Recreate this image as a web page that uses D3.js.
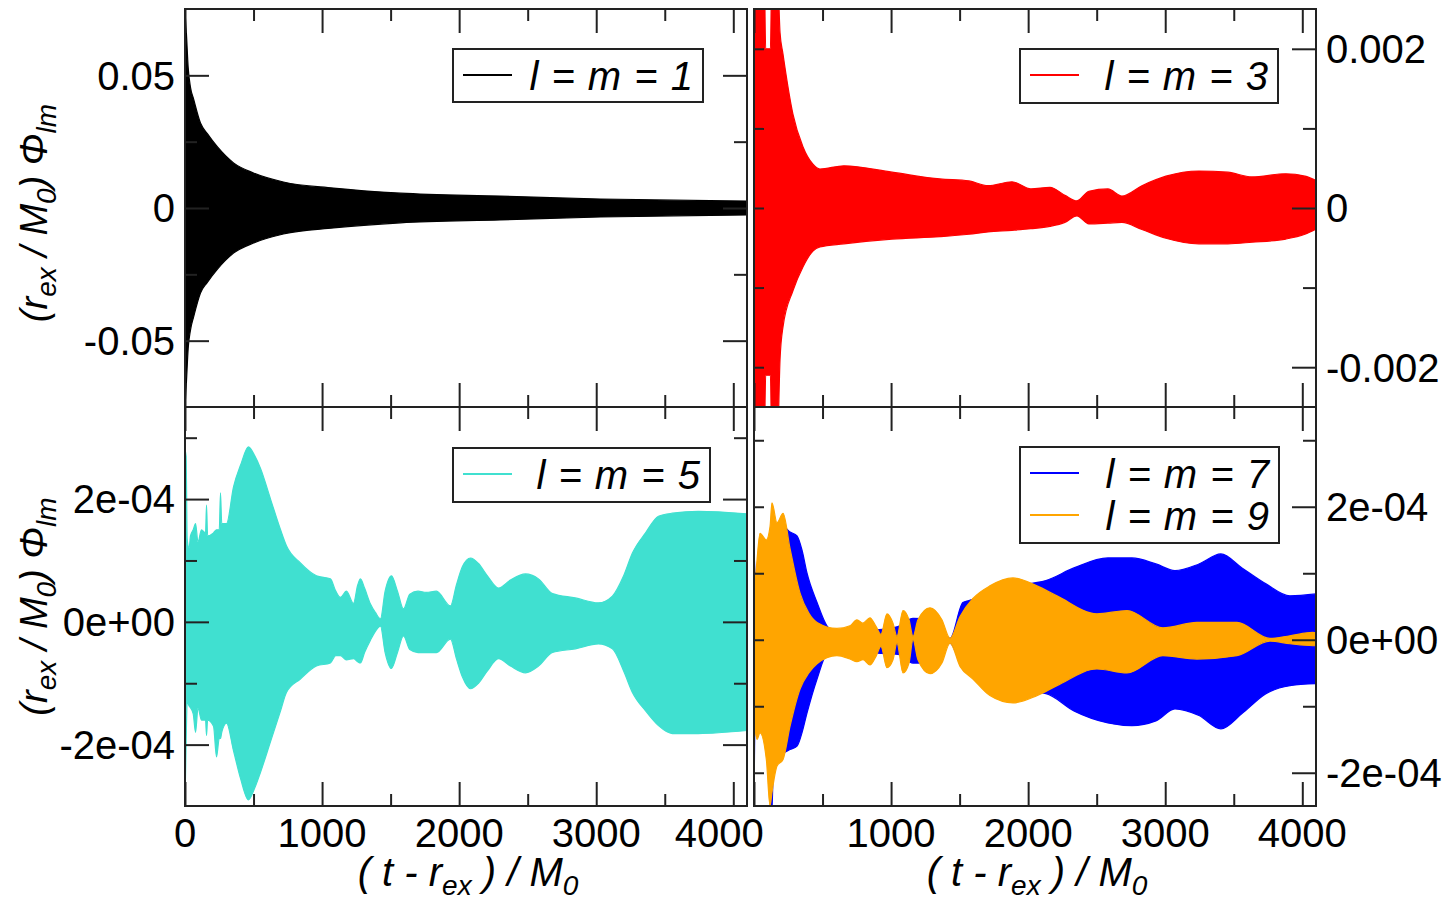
<!DOCTYPE html>
<html>
<head>
<meta charset="utf-8">
<script src="https://cdn.jsdelivr.net/npm/d3@7"></script>
<style>
  body { margin: 0; background: #fff; }
  svg { display: block; }
  text { font-family: "Liberation Sans", Arial, sans-serif; fill: #000; }
</style>
</head>
<body>
<script>
// envelopes of the oscillating waveforms
// each row: [ (t - r_ex)/M0 , upper amplitude , lower amplitude ]

var l1 = [
    [0, 0.074, -0.075], [10, 0.066, -0.066], [23, 0.053, -0.053], [40, 0.0455, -0.046],
    [63, 0.041, -0.041], [113, 0.032, -0.032], [163, 0.028, -0.028], [237, 0.023, -0.023],
    [354, 0.017, -0.017], [500, 0.0132, -0.0132], [718, 0.0098, -0.0098], [1083, 0.0075, -0.0075],
    [1572, 0.0056, -0.0056], [2301, 0.0045, -0.0045], [3030, 0.0034, -0.0034], [4103, 0.0026, -0.0026]
];

var l3 = [
    [0, 0.0030, -0.0030], [75, 0.0030, -0.0030], [85, 0.0020, -0.0021], [120, 0.0020, -0.0021],
    [130, 0.0030, -0.0030], [170, 0.0030, -0.0030], [190, 0.0022, -0.0019], [211, 0.00194, -0.0015],
    [284, 0.00118, -0.00104], [357, 0.00077, -0.00074], [430, 0.00055, -0.00054], [481, 0.00049, -0.00049],
    [656, 0.00053, -0.00045], [1007, 0.00045, -0.00039], [1357, 0.000365, -0.00036], [1568, 0.00034, -0.00033],
    [1707, 0.00028, -0.0003], [1882, 0.00033, -0.00028], [2020, 0.00024, -0.00026], [2159, 0.00026, -0.00023],
    [2268, 0.00016, -0.00018], [2356, 0.00009, -0.0001], [2443, 0.00021, -0.0002], [2582, 0.00024, -0.00019],
    [2684, 0.00015, -0.00018], [2830, 0.00028, -0.00027], [3005, 0.0004, -0.00038], [3246, 0.000465, -0.00045],
    [3457, 0.00045, -0.00045], [3632, 0.00039, -0.00043], [3880, 0.00043, -0.00039], [4019, 0.0004, -0.00033],
    [4107, 0.00034, -0.00026]
];

var l5 = [
    [0, 2.8e-4, -3.0e-4], [8, 2.7e-4, -2.0e-4], [16, 1.35e-4, -1.3e-4], [30, 1.2e-4, -1.37e-4],
    [40, 1.4e-4, -1.4e-4], [60, 1.5e-4, -1.5e-4], [77, 1.6e-4, -1.8e-4], [95, 1.3e-4, -1.4e-4],
    [120, 1.5e-4, -1.6e-4], [150, 1.45e-4, -1.6e-4], [157, 1.9e-4, -1.85e-4], [165, 1.4e-4, -1.6e-4],
    [208, 1.45e-4, -1.7e-4], [230, 1.5e-4, -2.2e-4], [250, 1.5e-4, -1.9e-4], [259, 2.1e-4, -1.9e-4],
    [268, 1.6e-4, -1.8e-4], [303, 1.6e-4, -1.65e-4], [354, 2.2e-4, -2.1e-4], [405, 2.55e-4, -2.55e-4],
    [463, 2.85e-4, -2.9e-4], [510, 2.7e-4, -2.7e-4], [551, 2.5e-4, -2.45e-4], [624, 2.0e-4, -1.95e-4],
    [697, 1.5e-4, -1.45e-4], [740, 1.24e-4, -1.15e-4], [842, 0.96e-4, -0.93e-4], [959, 0.75e-4, -0.72e-4],
    [1061, 0.7e-4, -0.67e-4], [1100, 0.5e-4, -0.55e-4], [1134, 0.4e-4, -0.55e-4], [1178, 0.5e-4, -0.62e-4],
    [1229, 0.3e-4, -0.6e-4], [1260, 0.6e-4, -0.65e-4], [1280, 0.7e-4, -0.67e-4], [1310, 0.55e-4, -0.5e-4],
    [1353, 0.29e-4, -0.3e-4], [1390, 0.15e-4, -0.15e-4], [1426, 0.05e-4, -0.07e-4], [1460, 0.5e-4, -0.5e-4],
    [1506, 0.75e-4, -0.76e-4], [1550, 0.5e-4, -0.5e-4], [1594, 0.21e-4, -0.23e-4], [1640, 0.45e-4, -0.45e-4],
    [1700, 0.5e-4, -0.5e-4], [1760, 0.48e-4, -0.5e-4], [1834, 0.5e-4, -0.5e-4], [1937, 0.26e-4, -0.28e-4],
    [1980, 0.6e-4, -0.6e-4], [2024, 0.9e-4, -0.9e-4], [2083, 1.04e-4, -1.09e-4], [2141, 0.95e-4, -1.0e-4],
    [2206, 0.75e-4, -0.8e-4], [2287, 0.55e-4, -0.6e-4], [2374, 0.68e-4, -0.72e-4], [2484, 0.78e-4, -0.83e-4],
    [2579, 0.7e-4, -0.72e-4], [2681, 0.46e-4, -0.5e-4], [2848, 0.39e-4, -0.44e-4], [3016, 0.31e-4, -0.36e-4],
    [3118, 0.42e-4, -0.44e-4], [3200, 0.75e-4, -0.8e-4], [3264, 1.12e-4, -1.15e-4], [3360, 1.45e-4, -1.45e-4],
    [3454, 1.72e-4, -1.69e-4], [3556, 1.77e-4, -1.82e-4], [3745, 1.8e-4, -1.82e-4], [4100, 1.76e-4, -1.77e-4]
];

var l7 = [
    [0, 1.46e-4, -2.6e-4], [8, 1.0e-4, -1.2e-4], [60, 1.2e-4, -1.3e-4], [100, 1.4e-4, -1.6e-4],
    [120, 1.5e-4, -2.0e-4], [130, 1.5e-4, -2.6e-4], [140, 1.55e-4, -2.0e-4], [160, 1.6e-4, -1.7e-4],
    [212, 1.7e-4, -1.7e-4], [263, 1.62e-4, -1.65e-4], [314, 1.56e-4, -1.6e-4], [350, 1.35e-4, -1.4e-4],
    [387, 1.0e-4, -1.1e-4], [460, 0.56e-4, -0.59e-4], [532, 0.21e-4, -0.2e-4], [605, 0.1e-4, -0.12e-4],
    [700, 0.12e-4, -0.15e-4], [900, 0.15e-4, -0.2e-4], [1050, 0.2e-4, -0.22e-4], [1160, 0.32e-4, -0.35e-4],
    [1300, 0.3e-4, -0.35e-4], [1430, 0.02e-4, -0.05e-4], [1524, 0.56e-4, -0.45e-4], [1568, 0.59e-4, -0.51e-4],
    [1845, 0.8e-4, -0.75e-4], [2130, 0.89e-4, -0.81e-4], [2334, 1.08e-4, -1.07e-4], [2582, 1.23e-4, -1.25e-4],
    [2757, 1.23e-4, -1.29e-4], [2932, 1.14e-4, -1.22e-4], [3071, 1.04e-4, -1.04e-4], [3246, 1.14e-4, -1.14e-4],
    [3406, 1.29e-4, -1.34e-4], [3560, 1.08e-4, -1.11e-4], [3735, 0.84e-4, -0.81e-4], [3910, 0.66e-4, -0.69e-4],
    [4107, 0.69e-4, -0.66e-4]
];

var l9 = [
    [0, 0.7e-4, -1.2e-4], [22, 1.2e-4, -1.5e-4], [44, 1.6e-4, -1.4e-4], [90, 1.5e-4, -1.8e-4],
    [117, 1.7e-4, -2.5e-4], [131, 2.06e-4, -2.3e-4], [168, 1.76e-4, -1.9e-4], [212, 1.9e-4, -1.8e-4],
    [263, 1.37e-4, -1.3e-4], [336, 0.7e-4, -0.74e-4], [400, 0.4e-4, -0.5e-4], [460, 0.26e-4, -0.36e-4],
    [605, 0.17e-4, -0.24e-4], [700, 0.21e-4, -0.29e-4], [751, 0.3e-4, -0.33e-4], [795, 0.25e-4, -0.3e-4],
    [846, 0.33e-4, -0.38e-4], [890, 0.2e-4, -0.25e-4], [926, 0.08e-4, -0.1e-4], [970, 0.39e-4, -0.42e-4],
    [1014, 0.25e-4, -0.3e-4], [1043, 0.05e-4, -0.05e-4], [1087, 0.44e-4, -0.5e-4], [1131, 0.3e-4, -0.35e-4],
    [1160, 0.05e-4, 0], [1196, 0.3e-4, -0.3e-4], [1284, 0.48e-4, -0.51e-4], [1371, 0.3e-4, -0.35e-4],
    [1430, 0.02e-4, -0.05e-4], [1503, 0.35e-4, -0.4e-4], [1597, 0.62e-4, -0.59e-4], [1721, 0.81e-4, -0.84e-4],
    [1889, 0.93e-4, -0.95e-4], [2064, 0.81e-4, -0.84e-4], [2210, 0.66e-4, -0.69e-4], [2502, 0.39e-4, -0.44e-4],
    [2721, 0.44e-4, -0.5e-4], [2983, 0.18e-4, -0.24e-4], [3231, 0.26e-4, -0.29e-4], [3523, 0.26e-4, -0.24e-4],
    [3764, 0.02e-4, -0.02e-4], [3910, 0.06e-4, -0.06e-4], [4078, 0.11e-4, -0.09e-4], [4107, 0.1e-4, -0.09e-4]
];

// axes
var xDomain = [0, 4100];
var xMajor = [0, 1000, 2000, 3000, 4000];
var xMinor = [500, 1500, 2500, 3500];
var xLabelsLeft  = ['0', '1000', '2000', '3000', '4000'];
var xLabelsRight = ['', '1000', '2000', '3000', '4000'];

var y1Major = [-0.05, 0, 0.05], y1Minor = [-0.025, 0.025], y1Labels = ['-0.05', '0', '0.05'];
var y3Major = [-0.002, 0, 0.002], y3Minor = [-0.001, 0.001], y3Labels = ['-0.002', '0', '0.002'];
var y5Major = [-2e-4, 0, 2e-4], y5Minor = [-1e-4, 1e-4, 3e-4], y5Labels = ['-2e-04', '0e+00', '2e-04'];
var y7Major = [-2e-4, 0, 2e-4], y7Minor = [-1e-4, 1e-4, 3e-4], y7Labels = ['-2e-04', '0e+00', '2e-04'];

var W = 1453, H = 906;
var FRAME = '#222';

var svg = d3.select('body').append('svg').attr('width', W).attr('height', H);
var defs = svg.append('defs');

var panels = [
    {id: 'p1', x0: 185, x1: 747, y0: 9, y1: 407, yDomain: [-0.075, 0.075],
     yMajor: y1Major, yMinor: y1Minor, yLabels: y1Labels, labelSide: 'left', xLabels: null, leftTick: 24,
     series: [{rows: l1, color: '#000000', name: 'l = m = 1'}],
     legend: {x: 453, y: 49, w: 250, h: 53}},
    {id: 'p2', x0: 754, x1: 1316, y0: 9, y1: 407, yDomain: [-0.0025, 0.0025],
     yMajor: y3Major, yMinor: y3Minor, yLabels: y3Labels, labelSide: 'right', xLabels: null, leftTick: 10,
     series: [{rows: l3, color: '#ff0000', name: 'l = m = 3'}],
     legend: {x: 1020, y: 49, w: 258, h: 54}},
    {id: 'p3', x0: 185, x1: 747, y0: 407, y1: 806, yDomain: [-3e-4, 3.5e-4],
     yMajor: y5Major, yMinor: y5Minor, yLabels: y5Labels, labelSide: 'left', xLabels: xLabelsLeft, leftTick: 24,
     series: [{rows: l5, color: '#40e0d0', name: 'l = m = 5'}],
     legend: {x: 453, y: 448, w: 257, h: 54}},
    {id: 'p4', x0: 754, x1: 1316, y0: 407, y1: 806, yDomain: [-2.5e-4, 3.5e-4],
     yMajor: y7Major, yMinor: y7Minor, yLabels: y7Labels, labelSide: 'right', xLabels: xLabelsRight, leftTick: 10,
     series: [{rows: l7, color: '#0000ff', name: 'l = m = 7'},
              {rows: l9, color: '#ffa500', name: 'l = m = 9'}],
     legend: {x: 1020, y: 447, w: 259, h: 96}}
];

panels.forEach(drawPanel);

function drawPanel(p) {
    var x = d3.scaleLinear().domain(xDomain).range([p.x0, p.x1]);
    var y = d3.scaleLinear().domain(p.yDomain).range([p.y1, p.y0]);
    var g = svg.append('g');

    defs.append('clipPath').attr('id', 'clip-' + p.id)
        .append('rect').attr('x', p.x0).attr('y', p.y0)
        .attr('width', p.x1 - p.x0).attr('height', p.y1 - p.y0);

    var plot = g.append('g').attr('clip-path', 'url(#clip-' + p.id + ')');
    var area = d3.area()
        .curve(d3.curveMonotoneX)
        .x(function (d) { return x(d[0]); })
        .y0(function (d) { return y(d[2]); })
        .y1(function (d) { return y(d[1]); });
    p.series.forEach(function (s) {
        plot.append('path').datum(s.rows)
            .attr('d', area)
            .attr('fill', s.color)
            .attr('stroke', s.color)
            .attr('stroke-width', 1.2)
            .attr('stroke-linejoin', 'round');
    });

    // ticks, all pointing into the frame
    function ticks(axis, tx, ty, values, size) {
        var a = g.append('g').attr('transform', 'translate(' + tx + ',' + ty + ')')
            .call(axis.tickValues(values).tickSize(size).tickSizeOuter(0).tickFormat(''));
        a.select('.domain').remove();
        a.selectAll('line').attr('stroke', FRAME).attr('stroke-width', 2);
    }
    ticks(d3.axisBottom(x), 0, p.y0, xMajor, 24);
    ticks(d3.axisBottom(x), 0, p.y0, xMinor, 12);
    ticks(d3.axisTop(x), 0, p.y1, xMajor, 24);
    ticks(d3.axisTop(x), 0, p.y1, xMinor, 12);
    ticks(d3.axisRight(y), p.x0, 0, p.yMajor, p.leftTick);
    ticks(d3.axisRight(y), p.x0, 0, p.yMinor, Math.min(12, p.leftTick));
    ticks(d3.axisLeft(y), p.x1, 0, p.yMajor, 24);
    ticks(d3.axisLeft(y), p.x1, 0, p.yMinor, 13);

    g.append('rect').attr('x', p.x0).attr('y', p.y0)
        .attr('width', p.x1 - p.x0).attr('height', p.y1 - p.y0)
        .attr('fill', 'none').attr('stroke', FRAME).attr('stroke-width', 2);

    // y tick labels
    p.yMajor.forEach(function (v, i) {
        g.append('text')
            .attr('x', p.labelSide === 'left' ? p.x0 - 10 : p.x1 + 10)
            .attr('y', y(v))
            .attr('dy', '0.36em')
            .attr('text-anchor', p.labelSide === 'left' ? 'end' : 'start')
            .style('font-size', '40px')
            .text(p.yLabels[i]);
    });

    // x tick labels
    if (p.xLabels) {
        xMajor.forEach(function (v, i) {
            if (!p.xLabels[i]) return;
            var shift = (p.id === 'p3' && v === 4000) ? -14 : 0;
            g.append('text')
                .attr('x', x(v) + shift)
                .attr('y', 847)
                .attr('text-anchor', 'middle')
                .style('font-size', '40px')
                .text(p.xLabels[i]);
        });
        xTitle(g, (p.x0 + p.x1) / 2 + 2, 886);
    }

    // legend
    var L = p.legend;
    var lg = g.append('g');
    lg.append('rect').attr('x', L.x).attr('y', L.y).attr('width', L.w).attr('height', L.h)
        .attr('fill', '#fff').attr('stroke', FRAME).attr('stroke-width', 2);
    p.series.forEach(function (s, i) {
        var cy = L.y + 26 + i * 42;
        lg.append('line').attr('x1', L.x + 10).attr('x2', L.x + 59)
            .attr('y1', cy).attr('y2', cy)
            .attr('stroke', s.color).attr('stroke-width', 2);
        lg.append('text').attr('x', L.x + L.w - 10).attr('y', cy + 15)
            .attr('text-anchor', 'end')
            .style('font-size', '40px').style('font-style', 'italic')
            .style('word-spacing', '2px')
            .text(s.name);
    });

    if (p.labelSide === 'left') {
        yTitle(g, 47, (p.y0 + p.y1) / 2 + (p.id === 'p1' ? 5 : 0));
    }
}

function yTitle(g, cx, cy) {
    var t = g.append('text')
        .attr('transform', 'translate(' + cx + ',' + cy + ') rotate(-90)')
        .attr('text-anchor', 'middle')
        .style('font-size', '38px').style('font-style', 'italic');
    t.append('tspan').text('(r');
    t.append('tspan').attr('dy', 9).style('font-size', '28px').text('ex');
    t.append('tspan').attr('dy', -9).text(' / M');
    t.append('tspan').attr('dy', 9).style('font-size', '28px').text('0');
    t.append('tspan').attr('dy', -9).text(') \u03A6');
    t.append('tspan').attr('dy', 9).style('font-size', '28px').text('lm');
}

function xTitle(g, cx, by) {
    var t = g.append('text')
        .attr('x', cx).attr('y', by)
        .attr('text-anchor', 'middle')
        .style('font-size', '40px').style('font-style', 'italic');
    t.append('tspan').text('( t - r');
    t.append('tspan').attr('dy', 9).style('font-size', '28px').text('ex');
    t.append('tspan').attr('dy', -9).text(' ) / M');
    t.append('tspan').attr('dy', 9).style('font-size', '28px').text('0');
}
</script>
</body>
</html>
